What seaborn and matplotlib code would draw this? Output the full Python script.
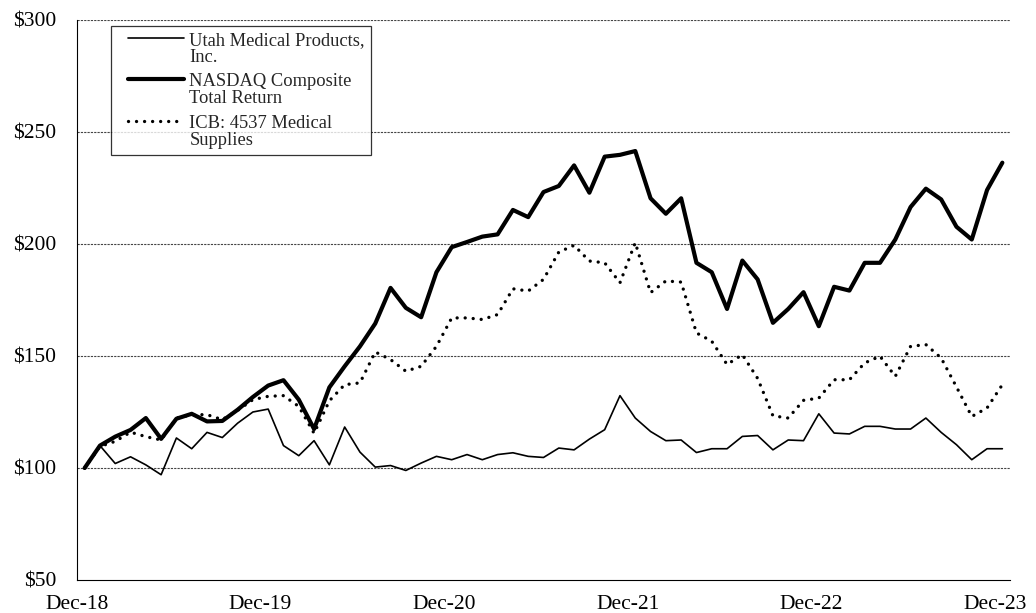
import matplotlib
matplotlib.use('Agg')
import matplotlib.pyplot as plt
import numpy as np
import pandas as pd
import seaborn as sns
from matplotlib.legend_handler import HandlerLine2D

# Monthly values, Dec-18 .. Dec-23 (index = $100 at start)
utah = [100, 110, 102, 105, 101.4, 97, 113.4, 108.6, 115.9, 113.6, 120, 125, 126.3,
        110, 105.5, 112.2, 101.4, 118.3, 107.1, 100.4, 101.1, 98.9, 102.2, 105.2, 103.7,
        106, 103.7, 106, 106.8, 105.2, 104.7, 108.9, 108.1, 112.9, 117.1, 132.3, 122.3,
        116.3, 112.2, 112.5, 106.9, 108.6, 108.6, 114.1, 114.5, 108.1, 112.5, 112.2, 124.2,
        115.6, 115.2, 118.6, 118.6, 117.4, 117.4, 122.3, 115.9, 110.4, 103.7, 108.6, 108.6]
nasdaq = [100, 110, 114, 117, 122.3, 113, 122, 124.2, 120.8, 121, 126, 131.7, 136.8,
          139.2, 130.5, 117.4, 136, 145.4, 154.3, 164.5, 180.4, 171.5, 167.3, 187.4, 198.6,
          200.9, 203.3, 204.3, 215.2, 212, 223.2, 225.9, 235.1, 222.9, 239, 239.8, 241.5,
          220.4, 213.5, 220.4, 191.6, 187.4, 171, 192.6, 184.2, 164.8, 171, 178.5, 163.3,
          180.9, 179.2, 191.6, 191.6, 202, 216.5, 224.7, 219.9, 207.7, 202, 224.1, 236.3]
icb = [100, 109.6, 111.9, 116, 114, 112.5, 122.3, 123.8, 123.8, 121.6, 125.7, 130.5, 132,
       132.3, 127.5, 115.5, 130, 137.2, 138, 151.8, 148.4, 143.2, 145.4, 154.3, 167,
       167, 166.3, 168.5, 180, 179, 184.2, 196.4, 199.4, 192.4, 191.6, 182.7, 200.6,
       178.3, 183.5, 183, 160.3, 156.6, 146.2, 150.6, 140, 123.3, 122.3, 130.2, 131.2,
       139.4, 139.4, 146.9, 149.9, 140.9, 154.3, 155.1, 149.1, 136.2, 123, 126.8, 137.2]

tick_labels = ['Dec-18', 'Dec-19', 'Dec-20', 'Dec-21', 'Dec-22', 'Dec-23']
y_ticks = [50, 100, 150, 200, 250, 300]
labels = ['Utah Medical Products,\nInc.', 'NASDAQ Composite\nTotal Return',
          'ICB: 4537 Medical\nSupplies']

month = np.arange(len(utah))

sns.set_style('white')
plt.rcParams['font.family'] = ['Liberation Serif', 'DejaVu Serif']

fig = plt.figure(figsize=(10.36, 6.13), dpi=100)
ax = fig.add_axes([77 / 1036, 1 - 580 / 613, 933 / 1036, 560 / 613])

sns.lineplot(x=month, y=utah, ax=ax, color='black', linewidth=1.2, label=labels[0])
sns.lineplot(x=month, y=nasdaq, ax=ax, color='black', linewidth=3.0, label=labels[1])
sns.lineplot(x=month, y=icb, ax=ax, color='black', linewidth=2.4,
             linestyle=(0, (0.01, 2.4)), dash_capstyle='round', label=labels[2])

ax.set_xlim(-0.5, len(utah) - 0.5)
ax.set_ylim(50, 300)
ax.set_xticks([-0.5 + 12 * k for k in range(len(tick_labels))])
ax.set_xticklabels(tick_labels)
ax.set_yticks(y_ticks)
ax.set_yticklabels(['$%d' % v for v in y_ticks])
ax.tick_params(axis='y', direction='out', length=6, width=0.8, pad=9, labelsize=15.5, color='black')
ax.tick_params(axis='x', direction='out', length=5, width=0.8, pad=6, labelsize=15.5, color='black')
for lbl in ax.get_xticklabels() + ax.get_yticklabels():
    lbl.set_color('black')

for v in y_ticks[1:]:
    ax.axhline(v, color='#444444', linewidth=0.8, linestyle=(0, (2, 1)), zorder=0)

for side in ['top', 'right']:
    ax.spines[side].set_visible(False)
for side in ['left', 'bottom']:
    ax.spines[side].set_color('black')
    ax.spines[side].set_linewidth(0.8)


class FirstLineHandler(HandlerLine2D):
    # put the legend line beside the first row of a two-row label, indented like Excel
    def create_artists(self, legend, orig_handle, xdescent, ydescent, width, height, fontsize, trans):
        arts = super().create_artists(legend, orig_handle, xdescent, ydescent, width, height, fontsize, trans)
        x0 = -xdescent + 0.62 * fontsize
        x1 = -xdescent + width - 0.15 * fontsize
        for a in arts:
            n = len(a.get_xdata())
            a.set_xdata(np.linspace(x0, x1, n))
            a.set_ydata(np.asarray(a.get_ydata()) + 0.6 * fontsize)
        return arts


handles, lbls = ax.get_legend_handles_labels()
leg = ax.legend(handles, lbls, loc='upper left', bbox_to_anchor=(0.0364, 0.989),
                borderaxespad=0, fontsize=13.3, frameon=True, fancybox=False,
                edgecolor='black', handlelength=3.8, handletextpad=0.15,
                labelspacing=0.42, borderpad=0.3,
                handler_map={h: FirstLineHandler() for h in handles})
leg.get_frame().set_linewidth(0.9)
for t in leg.get_texts():
    t.set_linespacing(1.0)

fig.savefig('out.png', dpi=100)
